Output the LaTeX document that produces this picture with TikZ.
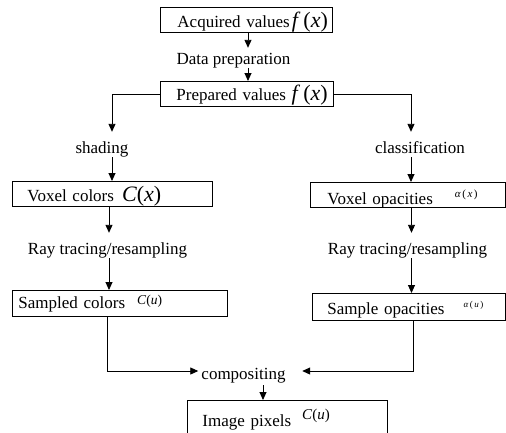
\documentclass[tikz,border=0pt]{standalone}
\usepackage{fontspec}
\setmainfont{Liberation Serif}
\usetikzlibrary{arrows.meta,calc}
\newcommand{\szt}[2]{{\fontsize{#1}{#1}\selectfont #2}}
\begin{document}
\begin{tikzpicture}[x=1pt,y=-1pt,
  box/.style={draw, line width=0.9pt, anchor=north west, inner xsep=0pt, inner ysep=0pt,
              align=left, text depth=0pt, font=\fontsize{17}{20}\selectfont},
  lbl/.style={inner xsep=2pt, inner ysep=2pt, anchor=base, text height=14pt, text depth=2pt,
              font=\fontsize{17}{20}\selectfont},
  arr/.style={line width=0.9pt, -{Triangle[length=8pt,width=7pt]}}]
\useasboundingbox (0,0) rectangle (506,432);
\clip (0,0) rectangle (506,432);

% x positions of the vertical connectors
\coordinate (xa) at (248,0);
\coordinate (xl) at (112,0);
\coordinate (xr) at (411,0);
\coordinate (xl2) at (109,0);
\coordinate (xr2) at (411.5,0);
\coordinate (xb) at (107,0);
\coordinate (xc) at (413,0);
\coordinate (xd) at (263,0);
\coordinate (yc) at (0,371);

% boxes
\node[box, text width=172pt, minimum height=25pt, text height=15pt] (acq) at (160,7)
  {\hspace*{17pt}Acquired values\hspace{2pt}\szt{22}{\textit{f}\hspace{3pt}(\textit{x})}};
\node[box, text width=173pt, minimum height=25pt, text height=12.2pt] (prep) at (160,81)
  {\hspace*{16pt}Prepared values \szt{22}{\textit{f}\hspace{3pt}(\textit{x})}};
\node[box, text width=200pt, minimum height=25pt, text height=15.6pt] (vc) at (12,181)
  {\hspace*{15pt}Voxel colors\hspace{8pt}\szt{22}{\textit{C}(\textit{x})}};
\node[box, text width=215pt, minimum height=26pt, text height=10pt] (sc) at (12,290)
  {\hspace*{6pt}Sampled colors\hspace{12pt}\raisebox{4pt}{\szt{13.5}{\textit{C}(\textit{u})}}};
\node[box, text width=195pt, minimum height=25pt, text height=19pt] (vo) at (310,182)
  {\hspace*{17pt}Voxel opacities\hspace{22pt}\raisebox{7pt}{\szt{11}{\textit{α}\hspace{1.5pt}(\hspace{1.5pt}\textit{x}\hspace{1.5pt})}}};
\node[box, text width=193pt, minimum height=27pt, text height=16pt] (so) at (312,293)
  {\hspace*{15pt}Sample opacities\hspace{19pt}\raisebox{7pt}{\szt{9}{\textit{α}\hspace{1.5pt}(\hspace{1.5pt}\textit{u}\hspace{1.5pt})}}};
\node[box, text width=200pt, minimum height=40pt, text height=12.6pt] (ip) at (187,400)
  {\hspace*{15pt}Image pixels\hspace{11pt}\raisebox{7pt}{\szt{15}{\textit{C}(\textit{u})}}};

% labels
\node[lbl] (dp) at (233.5,64) {Data preparation};
\node[lbl, text height=19pt] (shade) at (102,153) {shading};
\node[lbl, text height=19pt] (cls) at (420,153) {classification};
\node[lbl, text height=19pt] (rt1) at (107.5,254) {Ray tracing/resampling};
\node[lbl, text height=19pt] (rt2) at (407.5,254) {Ray tracing/resampling};
\node[lbl, inner xsep=3pt, text depth=4pt] (comp) at (243.5,379) {compositing};
\coordinate (compR) at ($(comp.east)+(13.5,0)$);

% connectors
\draw[arr] (acq.south -| xa) -- (dp.north -| xa);
\draw[arr] (dp.south -| xa) -- (prep.north -| xa);
\draw[arr] (prep.west) -| (shade.north -| xl);
\draw[arr] (shade.south -| xl) -- (vc.north -| xl);
\draw[arr] (prep.east) -| (cls.north -| xr);
\draw[arr] (cls.south -| xr) -- (vo.north -| xr);
\draw[arr] (vc.south -| xl2) -- (rt1.north -| xl2);
\draw[arr] (rt1.south -| xl2) -- (sc.north -| xl2);
\draw[arr] (vo.south -| xr2) -- (rt2.north -| xr2);
\draw[arr] (rt2.south -| xr2) -- (so.north -| xr2);
\draw[arr] (sc.south -| xb) |- (comp.west |- yc);
\draw[arr] (so.south -| xc) |- (compR |- yc);
\draw[arr] (comp.south -| xd) -- (ip.north -| xd);
\end{tikzpicture}
\end{document}
